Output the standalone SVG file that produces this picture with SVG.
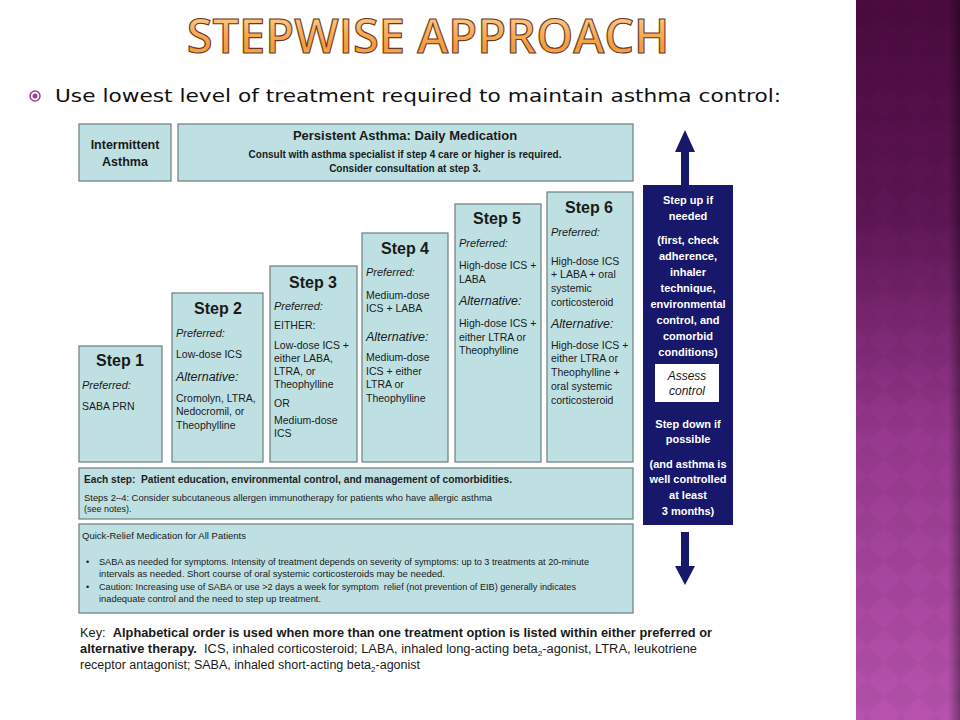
<svg xmlns="http://www.w3.org/2000/svg" width="960" height="720" viewBox="0 0 960 720">
<defs>
<linearGradient id="band" x1="0" y1="0" x2="0" y2="1">
<stop offset="0" stop-color="#4a0a3e"/>
<stop offset="0.3" stop-color="#5e1655"/>
<stop offset="0.6" stop-color="#96388d"/>
<stop offset="1" stop-color="#b753ae"/>
</linearGradient>
<linearGradient id="title" x1="0" y1="0" x2="0" y2="1">
<stop offset="0" stop-color="#fde3b8"/>
<stop offset="0.4" stop-color="#f8b462"/>
<stop offset="0.7" stop-color="#f39a38"/>
<stop offset="1" stop-color="#fbcf88"/>
</linearGradient>
<pattern id="diam" width="34" height="34" patternUnits="userSpaceOnUse">
<path d="M17 0 L34 17 L17 34 L0 17 Z" fill="#000" fill-opacity="0.035"/>
</pattern>
<linearGradient id="edge" x1="0" y1="0" x2="1" y2="0">
<stop offset="0" stop-color="#000" stop-opacity="0"/>
<stop offset="1" stop-color="#000" stop-opacity="0.35"/>
</linearGradient>
</defs>
<style>
text{font-family:"Liberation Sans",Arial,sans-serif;fill:#1a1a1a}
.box{fill:#bfe0e2;stroke:#6e7d7e;stroke-width:1.2}
.st{font-size:16px;font-weight:bold;text-anchor:middle}
.it{font-size:11px;font-style:italic}
.al{font-size:12.5px;font-style:italic}
.b{font-size:10.5px}
.w{font-size:11px;font-weight:bold;fill:#fff;text-anchor:middle}
.hd{font-weight:bold;text-anchor:middle}
.sm{font-size:9px}
.k{font-size:12.5px}
.arrow{fill:#17176b}
.pre{white-space:pre}
</style>
<rect width="960" height="720" fill="#fff"/>
<g id="sideband">
<rect x="856" y="0" width="104" height="720" fill="url(#band)"/>
<rect x="856" y="0" width="104" height="720" fill="url(#diam)"/>
<rect x="948" y="0" width="12" height="720" fill="url(#edge)"/>
</g>
<g id="title-text">
<text x="428" y="53" font-size="47" text-anchor="middle" style="fill:url(#title);stroke:#6b3826;stroke-width:1.1;font-weight:600;font-family:'Open Sans','Liberation Sans',sans-serif">STEPWISE APPROACH</text>
</g>
<g id="subtitle">
<circle cx="35" cy="96" r="5" fill="none" stroke="#a03c94" stroke-width="1.5"/>
<circle cx="35" cy="96" r="2.5" fill="#a03c94"/>
<text x="55" y="102" font-size="18.5" textLength="726" lengthAdjust="spacingAndGlyphs" style="font-family:'DejaVu Sans','Liberation Sans',sans-serif;fill:#111">Use lowest level of treatment required to maintain asthma control:</text>
</g>
<g id="intermittent">
<rect class="box" x="79" y="124" width="92" height="57"/>
<text class="hd" x="125" y="149" font-size="12.5">Intermittent</text>
<text class="hd" x="125" y="166" font-size="12.5">Asthma</text>
</g>
<g id="persistent">
<rect class="box" x="178" y="124" width="455" height="57"/>
<text class="hd" x="405" y="140" font-size="13">Persistent Asthma: Daily Medication</text>
<text class="hd" x="405" y="158" font-size="10">Consult with asthma specialist if step 4 care or higher is required.</text>
<text class="hd" x="405" y="172" font-size="10">Consider consultation at step 3.</text>
</g>
<g id="step1">
<rect class="box" x="79" y="346" width="83" height="116"/>
<text class="st" x="120" y="366">Step 1</text>
<text class="it" x="82" y="389">Preferred:</text>
<text class="b" x="82" y="410">SABA PRN</text>
</g>
<g id="step2">
<rect class="box" x="172" y="293" width="91" height="169"/>
<text class="st" x="218" y="314">Step 2</text>
<text class="it" x="176" y="337">Preferred:</text>
<text class="b" x="176" y="358">Low-dose ICS</text>
<text class="al" x="176" y="381">Alternative:</text>
<text class="b" x="176" y="402">Cromolyn, LTRA,</text>
<text class="b" x="176" y="415">Nedocromil, or</text>
<text class="b" x="176" y="429">Theophylline</text>
</g>
<g id="step3">
<rect class="box" x="270" y="266" width="87" height="196"/>
<text class="st" x="313" y="288">Step 3</text>
<text class="it" x="274" y="310">Preferred:</text>
<text class="b" x="274" y="329">EITHER:</text>
<text class="b" x="274" y="349">Low-dose ICS +</text>
<text class="b" x="274" y="362">either LABA,</text>
<text class="b" x="274" y="375">LTRA, or</text>
<text class="b" x="274" y="388">Theophylline</text>
<text class="b" x="274" y="407">OR</text>
<text class="b" x="274" y="424">Medium-dose</text>
<text class="b" x="274" y="437">ICS</text>
</g>
<g id="step4">
<rect class="box" x="362" y="233" width="86" height="229"/>
<text class="st" x="405" y="254">Step 4</text>
<text class="it" x="366" y="276">Preferred:</text>
<text class="b" x="366" y="299">Medium-dose</text>
<text class="b" x="366" y="312">ICS + LABA</text>
<text class="al" x="366" y="341">Alternative:</text>
<text class="b" x="366" y="361">Medium-dose</text>
<text class="b" x="366" y="375">ICS + either</text>
<text class="b" x="366" y="388">LTRA or</text>
<text class="b" x="366" y="402">Theophylline</text>
</g>
<g id="step5">
<rect class="box" x="455" y="204" width="86" height="258"/>
<text class="st" x="497" y="224">Step 5</text>
<text class="it" x="459" y="247">Preferred:</text>
<text class="b" x="459" y="269">High-dose ICS +</text>
<text class="b" x="459" y="283">LABA</text>
<text class="al" x="459" y="305">Alternative:</text>
<text class="b" x="459" y="327">High-dose ICS +</text>
<text class="b" x="459" y="341">either LTRA or</text>
<text class="b" x="459" y="354">Theophylline</text>
</g>
<g id="step6">
<rect class="box" x="547" y="192" width="86" height="270"/>
<text class="st" x="589" y="213">Step 6</text>
<text class="it" x="551" y="236">Preferred:</text>
<text class="b" x="551" y="265">High-dose ICS</text>
<text class="b" x="551" y="278">+ LABA + oral</text>
<text class="b" x="551" y="292">systemic</text>
<text class="b" x="551" y="306">corticosteroid</text>
<text class="al" x="551" y="328">Alternative:</text>
<text class="b" x="551" y="349">High-dose ICS +</text>
<text class="b" x="551" y="362">either LTRA or</text>
<text class="b" x="551" y="376">Theophylline +</text>
<text class="b" x="551" y="390">oral systemic</text>
<text class="b" x="551" y="404">corticosteroid</text>
</g>
<g id="each-step">
<rect class="box" x="79" y="468" width="554" height="51"/>
<text class="pre" x="84" y="483" font-size="11" textLength="428" lengthAdjust="spacingAndGlyphs" style="font-weight:bold;fill:#222">Each step:  Patient education, environmental control, and management of comorbidities.</text>
<text class="sm" x="84" y="501" textLength="408" lengthAdjust="spacingAndGlyphs">Steps 2–4: Consider subcutaneous allergen immunotherapy for patients who have allergic asthma</text>
<text class="sm" x="84" y="512">(see notes).</text>
</g>
<g id="quick-relief">
<rect class="box" x="79" y="524" width="554" height="89"/>
<text class="sm" x="82" y="539" textLength="164" lengthAdjust="spacingAndGlyphs">Quick-Relief Medication for All Patients</text>
<text class="sm" x="86" y="565">•</text>
<text class="sm" x="99" y="565" textLength="490" lengthAdjust="spacingAndGlyphs">SABA as needed for symptoms. Intensity of treatment depends on severity of symptoms: up to 3 treatments at 20-minute</text>
<text class="sm" x="99" y="577" textLength="346" lengthAdjust="spacingAndGlyphs">intervals as needed. Short course of oral systemic corticosteroids may be needed.</text>
<text class="sm" x="86" y="590">•</text>
<text class="sm pre" x="99" y="590" textLength="477" lengthAdjust="spacingAndGlyphs">Caution: Increasing use of SABA or use &gt;2 days a week for symptom  relief (not prevention of EIB) generally indicates</text>
<text class="sm" x="99" y="602" textLength="222" lengthAdjust="spacingAndGlyphs">inadequate control and the need to step up treatment.</text>
</g>
<g id="step-control">
<polygon class="arrow" points="685,130 695,152 689,152 689,186 681,186 681,152 675,152"/>
<rect x="643" y="185" width="90" height="340" fill="#17176b"/>
<text class="w" x="688" y="204">Step up if</text>
<text class="w" x="688" y="220">needed</text>
<text class="w" x="688" y="244">(first, check</text>
<text class="w" x="688" y="260">adherence,</text>
<text class="w" x="688" y="276">inhaler</text>
<text class="w" x="688" y="292">technique,</text>
<text class="w" x="688" y="308">environmental</text>
<text class="w" x="688" y="324">control, and</text>
<text class="w" x="688" y="340">comorbid</text>
<text class="w" x="688" y="356">conditions)</text>
<rect x="655" y="364" width="64" height="38" fill="#fff"/>
<text x="687" y="380" font-size="12" font-style="italic" text-anchor="middle">Assess</text>
<text x="687" y="395" font-size="12" font-style="italic" text-anchor="middle">control</text>
<text class="w" x="688" y="428">Step down if</text>
<text class="w" x="688" y="443">possible</text>
<text class="w" x="688" y="468">(and asthma is</text>
<text class="w" x="688" y="483">well controlled</text>
<text class="w" x="688" y="499">at least</text>
<text class="w" x="688" y="515">3 months)</text>
<polygon class="arrow" points="681,532 689,532 689,566 695,566 685,585 675,566 681,566"/>
</g>
<g id="key">
<text class="k pre" x="80" y="637" textLength="632" lengthAdjust="spacingAndGlyphs">Key:  <tspan font-weight="bold">Alphabetical order is used when more than one treatment option is listed within either preferred or</tspan></text>
<text class="k pre" x="80" y="653" textLength="617" lengthAdjust="spacingAndGlyphs"><tspan font-weight="bold">alternative therapy.</tspan>  ICS, inhaled corticosteroid; LABA, inhaled long-acting beta<tspan font-size="8" dy="3">2</tspan><tspan dy="-3">-agonist, LTRA, leukotriene</tspan></text>
<text class="k" x="80" y="669" textLength="340" lengthAdjust="spacingAndGlyphs">receptor antagonist; SABA, inhaled short-acting beta<tspan font-size="8" dy="3">2</tspan><tspan dy="-3">-agonist</tspan></text>
</g>
</svg>
